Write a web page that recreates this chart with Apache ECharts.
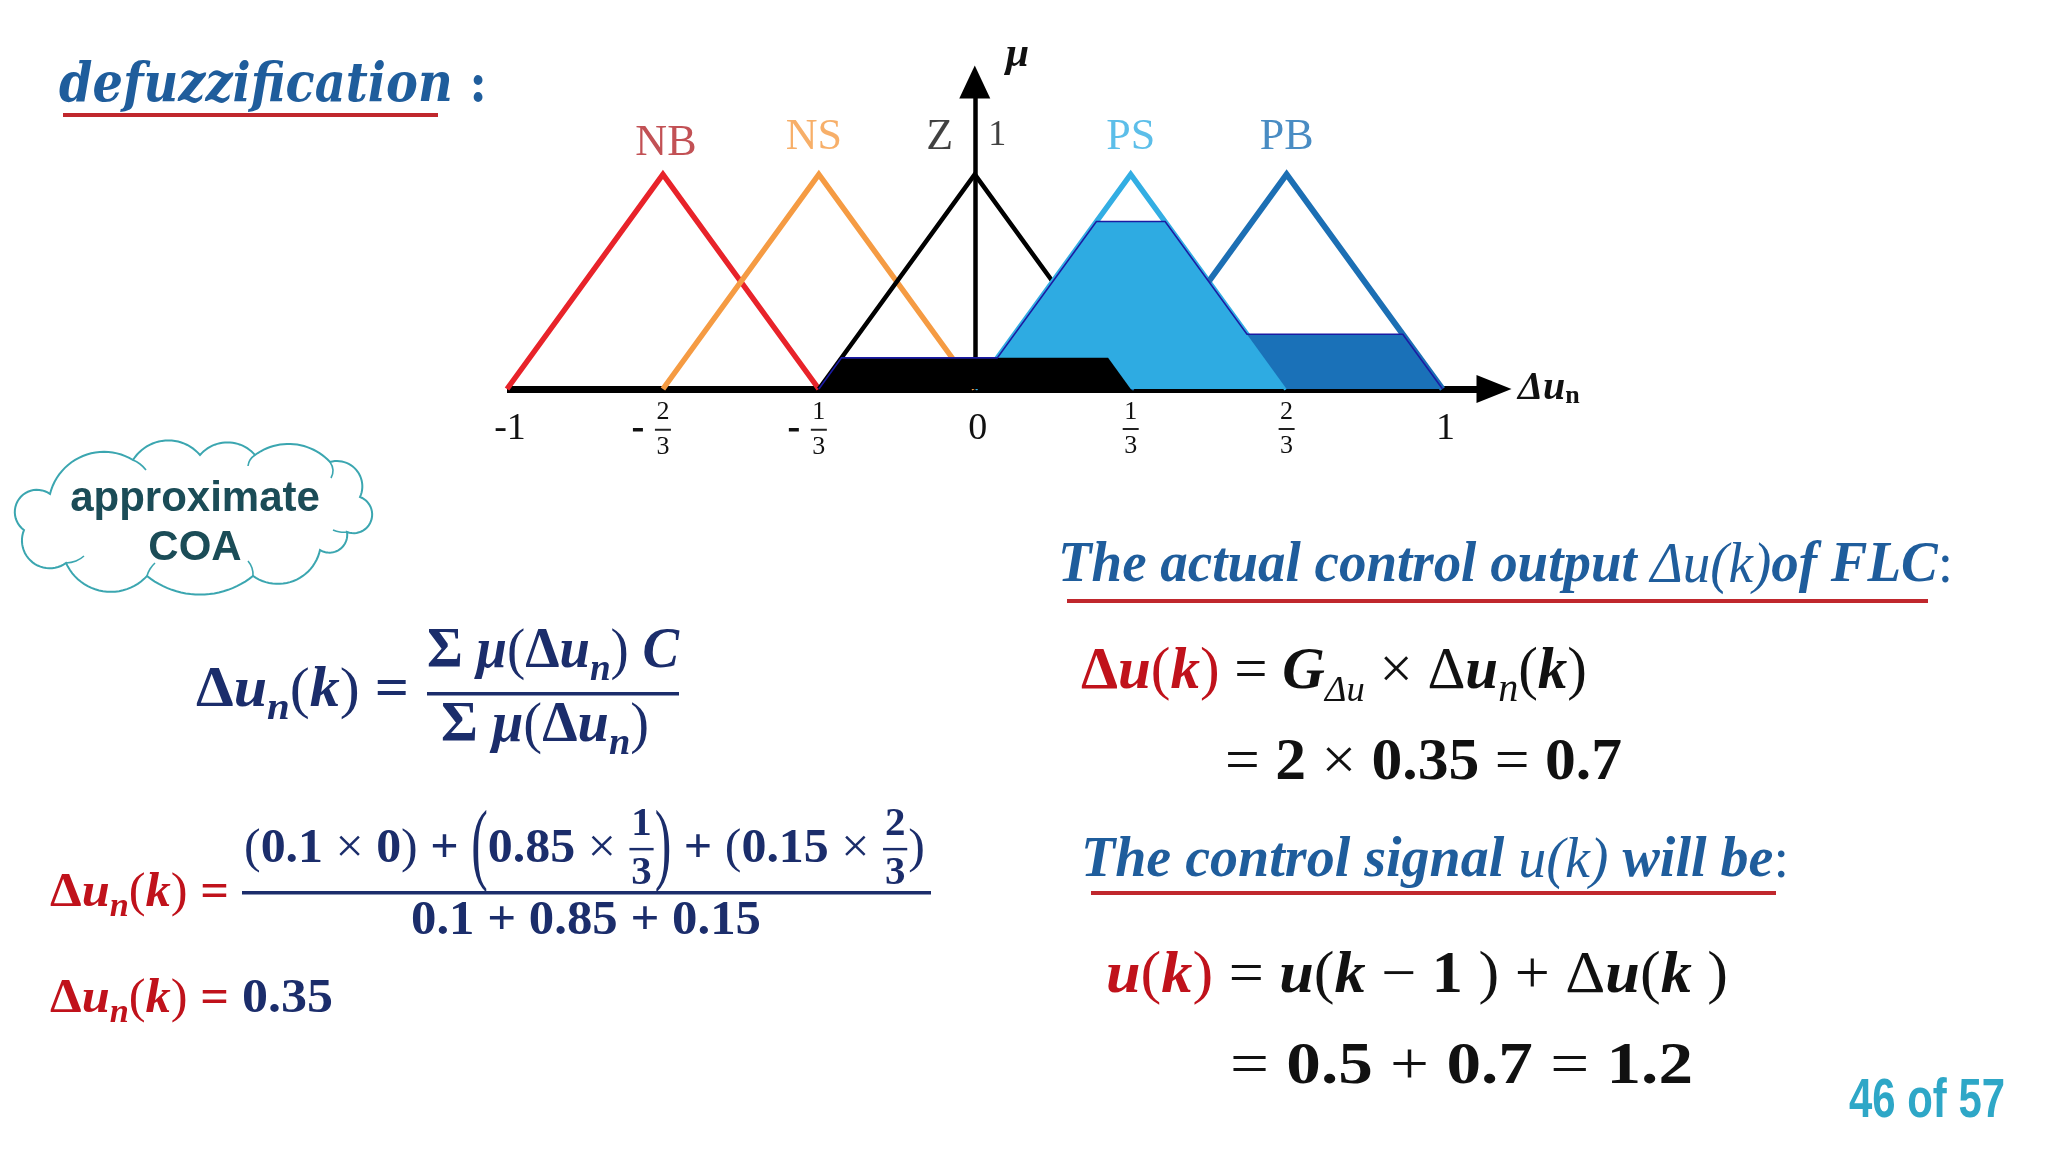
<!DOCTYPE html>
<html><head><meta charset="utf-8">
<script src="https://cdn.jsdelivr.net/npm/echarts@6/dist/echarts.min.js"></script>
<style>html,body{margin:0;padding:0;background:#fff}#c{width:2048px;height:1152px}</style>
</head><body><div id="c"></div>
<script>
// ---------- data ----------
const xTickValues = [-1, -2/3, -1/3, 0, 1/3, 2/3, 1];
const xTickLabels = ['-1', '-2/3', '-1/3', '0', '1/3', '2/3', '1'];
const yTickValue = 1;
const yTickLabel = '1';
const mfNames = ['NB', 'NS', 'Z', 'PS', 'PB'];
const mfNB = [[-1, 0], [-2/3, 1], [-1/3, 0]];
const mfNS = [[-2/3, 0], [-1/3, 1], [0, 0]];
const mfZ  = [[-1/3, 0], [0, 1], [1/3, 0]];
const mfPS = [[0, 0], [1/3, 1], [2/3, 0]];
const mfPB = [[1/3, 0], [2/3, 1], [1, 0]];
// clipped (fired) output sets
const cutZ  = [[-1/3, 0], [-0.285, 0.145], [0.285, 0.145], [1/3, 0]];
const cutPS = [[0, 0], [0.26, 0.78], [0.407, 0.78], [2/3, 0]];
const cutPB = [[1/3, 0], [0.418, 0.255], [0.915, 0.255], [1, 0]];
const aggOutline = [[-1/3, 0], [-0.285, 0.145], [0.048, 0.145], [0.26, 0.78], [0.407, 0.78], [0.582, 0.255], [0.915, 0.255], [1, 0]];

// ---------- styles ----------
const mfSets = [mfNB, mfNS, mfZ, mfPS, mfPB];
const lineColors = ['#e8232a', '#f59b43', '#000000', '#33aee3', '#1c6fb4'];
const lineWidths = [5.5, 5.5, 4.5, 5.5, 6];
const labelColors = ['#b3262b', '#f59b43', '#111111', '#33aee3', '#1c6fb4'];
const labelOffsets = [[3, 6], [-5, 0], [-35, 0], [0, 0], [0, 0]];
const SERIF = 'Liberation Serif';

const chart = echarts.init(document.getElementById('c'));

function xLabel(v) {
  const i = xTickValues.findIndex(t => Math.abs(t - v) < 1e-6);
  if (i < 0) return '';
  const s = xTickLabels[i];
  const neg = s[0] === '-';
  const body = neg ? s.slice(1) : s;
  if (body.indexOf('/') >= 0) {
    const [n, d] = body.split('/');
    const L = neg ? '{sp|}' : '';
    const R = neg ? '{sp|}' : '';
    return L + '{n|' + n + '}' + R + '\n' + (neg ? '{mi|}{gap|}' : '') + '{bar|}' + R + '\n' + L + '{n|' + d + '}' + R;
  }
  return '{z|' + s + '}';
}

// ---------- math text helper ----------
const mctx = document.createElement('canvas').getContext('2d');
function txt(t, x, y, size, ital, wt, c, fam, align) {
  return {type: 'text', x: x, y: y, style: {text: t, fontSize: size, fontStyle: ital, fontWeight: wt,
    fontFamily: fam, fill: c, align: align, verticalAlign: 'middle'}};
}
function mathLine(x0, x1, yc, base, segs, opt) {
  opt = opt || {};
  const fam = opt.family || SERIF;
  const kids = [];
  let x = 0;
  segs.forEach(s => {
    const size = base * (s.s || 1);
    const ital = s.i ? 'italic' : 'normal';
    const wt = s.b === false ? 'normal' : 'bold';
    const col = s.c || opt.c;
    mctx.font = ital + ' ' + wt + ' ' + size + 'px "' + fam + '"';
    if (s.frac) {
      const w = Math.max(mctx.measureText(s.frac[0]).width, mctx.measureText(s.frac[1]).width) + base * 0.12;
      const cx = x + w / 2;
      kids.push(txt(s.frac[0], cx, -base * 0.5, size, ital, wt, col, fam, 'center'));
      kids.push(txt(s.frac[1], cx, base * 0.5, size, ital, wt, col, fam, 'center'));
      kids.push({type: 'rect', shape: {x: x + 1, y: -1, width: w - 2, height: 2.2}, style: {fill: col}});
      x += w;
      return;
    }
    const w = mctx.measureText(s.t).width;
    const el = txt(s.t, x, (s.dy || 0) * base, size, ital, wt, col, fam, 'left');
    if (s.sy) el.scaleY = s.sy;
    kids.push(el);
    x += w;
  });
  const sx = (x1 != null) ? (x1 - x0) / x : 1;
  return {type: 'group', x: x0, y: yc, scaleX: sx, scaleY: opt.sy || 1, children: kids};
}
function S(t, o) { return Object.assign({t: t}, o || {}); }
const sub = (t, o) => S(t, Object.assign({s: 0.68, dy: 0.3, i: true}, o || {}));

const NAVY = '#1b2d6b', RED = '#c0121b', BLUE = '#1f5d9c', BLK = '#111111', ULRED = '#c0272d';

function lhsDun(c) {
  return [S('Δ', {c: c}), S('u', {i: true, c: c}), sub('n', {c: c}), S('(', {c: c, b: false}),
    S('k', {i: true, c: c}), S(')', {c: c, b: false}), S(' =', {c: c})];
}

// cloud outline (decorative): arcs between junction points, sampled into a polygon
const cloudPts = [[50,494],[133,460],[200,455],[255,455],[330,462],[360,497],[347,532],[320,550],[253,576],[147,576],[66,563],[24,530]];
const cloudK = [0.62, 0.62, 0.66, 0.75, 0.55, 0.5, 0.55, 0.6, 0.8, 0.6, 0.52, 0.5];
const cloudPoly = [];
for (let i = 0; i < cloudPts.length; i++) {
  const A = cloudPts[i], B = cloudPts[(i + 1) % cloudPts.length];
  const dx = B[0] - A[0], dy = B[1] - A[1];
  const c = Math.hypot(dx, dy);
  const r = c * cloudK[i];
  const nx = dy / c, ny = -dx / c;
  const h = Math.sqrt(Math.max(r * r - c * c / 4, 0));
  const cx = (A[0] + B[0]) / 2 - nx * h, cy = (A[1] + B[1]) / 2 - ny * h;
  const a0 = Math.atan2(A[1] - cy, A[0] - cx);
  const a1 = Math.atan2(B[1] - cy, B[0] - cx);
  let d = a1 - a0;
  while (d > Math.PI) d -= 2 * Math.PI;
  while (d <= -Math.PI) d += 2 * Math.PI;
  for (let t = 0; t < 24; t++) {
    const a = a0 + d * t / 24;
    cloudPoly.push([cx + r * Math.cos(a), cy + r * Math.sin(a)]);
  }
}
// small inner hook strokes of the cloud
const cloudHooks = [
  [[133,460],[140,464],[146,470]], [[255,455],[250,460],[248,466]],
  [[330,462],[333,470],[331,478]], [[347,532],[340,532],[333,530]], [[253,576],[252,568],[248,561]],
  [[147,576],[150,569],[155,563]], [[66,563],[76,561],[84,556]]
];

const graphics = [
  // title
  mathLine(59, 487, 87, 46, [S('defuzzification', {i: true}), S(' :')], {c: BLUE, family: 'DejaVu Serif', sy: 1.18}),
  {type: 'rect', shape: {x: 63, y: 113, width: 375, height: 4}, style: {fill: ULRED}},
  // cloud
  {type: 'polygon', shape: {points: cloudPoly}, style: {fill: '#fff', stroke: '#3ba6b0', lineWidth: 2}}
].concat(cloudHooks.map(p => ({type: 'polyline', shape: {points: p, smooth: 0.5}, style: {stroke: '#3ba6b0', lineWidth: 1.6, fill: null}}))).concat([
  {type: 'text', x: 195, y: 499, style: {text: 'approximate', fontFamily: 'Liberation Sans', fontWeight: 'bold', fontSize: 42, fill: '#1b4c57', align: 'center', verticalAlign: 'middle'}},
  {type: 'text', x: 195, y: 548, style: {text: 'COA', fontFamily: 'Liberation Sans', fontWeight: 'bold', fontSize: 42, fill: '#1b4c57', align: 'center', verticalAlign: 'middle'}},
  // formula 1
  mathLine(196, 409, 692, 50, lhsDun(NAVY), {c: NAVY, sy: 1.12}),
  mathLine(427, 679, 653, 50, [S('Σ', {b: true}), S(' '), S('μ', {i: true}), S('(', {b: false}), S('Δ'), S('u', {i: true}), sub('n'), S(')', {b: false}), S(' '), S('C', {i: true})], {c: NAVY, sy: 1.12}),
  {type: 'rect', shape: {x: 427, y: 692, width: 252, height: 3.5}, style: {fill: NAVY}},
  mathLine(441, 649, 727, 50, [S('Σ'), S(' '), S('μ', {i: true}), S('(', {b: false}), S('Δ'), S('u', {i: true}), sub('n'), S(')', {b: false})], {c: NAVY, sy: 1.12}),
  // formula 2
  mathLine(50, 229, 893, 44, lhsDun(RED), {c: RED, sy: 1.12}),
  {type: 'rect', shape: {x: 242, y: 891, width: 689, height: 3.5}, style: {fill: NAVY}},
  mathLine(244, 925, 849, 44, [S('(', {b: false}), S('0.1 '), S('×', {b: false}), S(' 0'), S(')', {b: false}), S(' + '),
    S('(', {b: false, sy: 1.85}), S('0.85 '), S('× ', {b: false}), {frac: ['1', '3'], s: 0.82}, S(')', {b: false, sy: 1.85}),
    S(' + '), S('(', {b: false}), S('0.15 '), S('× ', {b: false}), {frac: ['2', '3'], s: 0.82}, S(')', {b: false})], {c: NAVY, sy: 1.12}),
  mathLine(411, 761, 921, 44, [S('0.1 + 0.85 + 0.15')], {c: NAVY, sy: 1.12}),
  // formula 3
  mathLine(50, 229, 999, 44, lhsDun(RED), {c: RED, sy: 1.12}),
  mathLine(242, 333, 999, 44, [S('0.35')], {c: NAVY, sy: 1.12}),
  // right: actual control output
  mathLine(1058, 1953, 567, 50, [S('The actual control output ', {i: true}), S('Δu(k)', {i: true, b: false}), S('of FLC', {i: true}), S(':', {b: false})], {c: BLUE, sy: 1.12}),
  {type: 'rect', shape: {x: 1067, y: 599, width: 861, height: 4}, style: {fill: ULRED}},
  mathLine(1081, 1587, 673, 52, [S('Δ', {c: RED}), S('u', {i: true, c: RED}), S('(', {b: false, c: RED}), S('k', {i: true, c: RED}), S(')', {b: false, c: RED}),
    S(' = ', {b: false}), S('G', {i: true}), S('Δu', {s: 0.62, dy: 0.32, i: true, b: false}), S(' × ', {b: false}), S('Δ', {b: false}), S('u', {i: true}), sub('n', {b: false}),
    S('(', {b: false}), S('k', {i: true}), S(')', {b: false})], {c: BLK, sy: 1.12}),
  mathLine(1225, 1622, 764, 52, [S('= ', {b: false}), S('2'), S(' × ', {b: false}), S('0.35'), S(' = ', {b: false}), S('0.7')], {c: BLK, sy: 1.12}),
  // right: control signal
  mathLine(1081, 1789, 862, 50, [S('The control signal ', {i: true}), S('u(k)', {i: true, b: false}), S(' will be', {i: true}), S(':', {b: false})], {c: BLUE, sy: 1.12}),
  {type: 'rect', shape: {x: 1091, y: 891, width: 685, height: 4}, style: {fill: ULRED}},
  mathLine(1106, 1728, 977, 52, [S('u', {i: true, c: RED}), S('(', {b: false, c: RED}), S('k', {i: true, c: RED}), S(')', {b: false, c: RED}),
    S(' = ', {b: false}), S('u', {i: true}), S('(', {b: false}), S('k', {i: true}), S(' − ', {b: false}), S('1'), S(' ) + ', {b: false}),
    S('Δ', {b: false}), S('u', {i: true}), S('(', {b: false}), S('k', {i: true}), S(' )', {b: false})], {c: BLK, sy: 1.12}),
  mathLine(1230, 1693, 1068, 52, [S('= ', {b: false}), S('0.5'), S(' + ', {b: false}), S('0.7'), S(' = ', {b: false}), S('1.2')], {c: BLK, sy: 1.12}),
  // page number
  mathLine(1849, 2005, 1102, 52, [S('46 of 57')], {c: '#2ea7c7', family: 'Liberation Sans', sy: 1.05})
]);

// ---------- series ----------
const series = [];
mfSets.forEach((d, i) => {
  series.push({type: 'line', name: mfNames[i], data: d, showSymbol: false, silent: true,
    lineStyle: {color: lineColors[i], width: lineWidths[i], join: 'miter', miterLimit: 20, cap: 'butt'}, z: 2});
});
[[cutPB, '#1a71b8'], [cutPS, '#2eabe2'], [cutZ, '#000000']].forEach(([d, col]) => {
  series.push({type: 'line', data: d, showSymbol: false, silent: true,
    lineStyle: {width: 0, opacity: 0}, areaStyle: {color: col, opacity: 1, origin: 'start'}, z: 3});
});
series.push({type: 'line', data: aggOutline, showSymbol: false, silent: true,
  lineStyle: {color: '#1b1ba3', width: 1.6, join: 'miter'}, z: 4});
const labelData = mfSets.map((d, i) => ({value: d[1], label: {show: true, position: 'top', distance: 14, formatter: mfNames[i],
  color: labelColors[i], fontFamily: SERIF, fontSize: 44, offset: labelOffsets[i]}}));
labelData.push({value: [0, yTickValue], label: {show: true, position: 'right', distance: 13, formatter: yTickLabel,
  color: '#111', fontFamily: SERIF, fontSize: 36, offset: [0, -39]}});
series.push({type: 'scatter', symbolSize: 1, itemStyle: {color: 'rgba(0,0,0,0)'}, silent: true, z: 5, data: labelData});

chart.setOption({
  backgroundColor: '#ffffff',
  animation: false,
  grid: {left: 507, right: 554, top: 82, bottom: 763},
  xAxis: {
    type: 'value', min: -1, max: 1.11, interval: 1/3,
    splitLine: {show: false}, axisTick: {show: false},
    axisLine: {onZero: true, lineStyle: {color: '#000', width: 7, cap: 'butt'}, symbol: ['none', 'triangle'], symbolSize: [28, 35]},
    axisLabel: {
      interval: 0, margin: 7, showMaxLabel: false, formatter: xLabel,
      rich: {
        z: {fontFamily: SERIF, fontSize: 38, color: '#111', lineHeight: 66, padding: [0, 0, 0, 6]},
        n: {fontFamily: SERIF, fontSize: 26, color: '#111', lineHeight: 32, height: 32, width: 18, align: 'center'},
        bar: {width: 16, height: 2, lineHeight: 2, backgroundColor: '#222'},
        mi: {width: 10, height: 3.5, lineHeight: 3.5, backgroundColor: '#111'},
        gap: {width: 12, height: 2},
        sp: {width: 22, height: 2}
      }
    },
    name: '{a|Δu}{b|n}', nameLocation: 'end', nameGap: 24,
    nameTextStyle: {rich: {
      a: {fontFamily: SERIF, fontStyle: 'italic', fontWeight: 'bold', fontSize: 40, color: '#111'},
      b: {fontFamily: SERIF, fontWeight: 'bold', fontSize: 26, color: '#111', padding: [14, 0, 0, 0]}
    }}
  },
  yAxis: {
    type: 'value', min: 0, max: 1.43, interval: 0.5,
    splitLine: {show: false}, axisTick: {show: false}, axisLabel: {show: false},
    axisLine: {onZero: true, lineStyle: {color: '#000', width: 4.5}, symbol: ['none', 'triangle'], symbolSize: [31, 33]},
    name: 'μ', nameLocation: 'end', nameGap: 6,
    nameTextStyle: {fontFamily: SERIF, fontStyle: 'italic', fontWeight: 'bold', fontSize: 42, color: '#111', align: 'left', padding: [0, 0, 0, 31]}
  },
  series: series,
  graphic: graphics
});
</script>
</body></html>
